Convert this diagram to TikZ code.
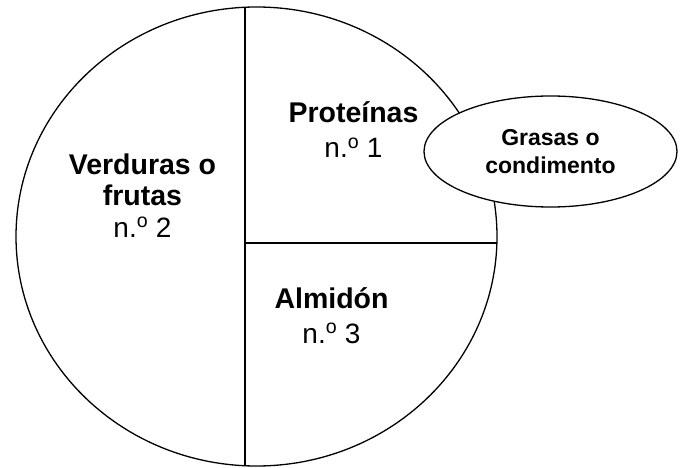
\documentclass[tikz,border=0pt]{standalone}
\usepackage{fontspec}
\setmainfont{Liberation Sans}
\usetikzlibrary{shapes.geometric}
\tikzset{
  plateline/.style={line width=1.3pt, black},
  head/.style={font=\fontsize{28.5}{34}\selectfont\bfseries, anchor=base, inner sep=0pt},
  num/.style={font=\fontsize{28}{34}\selectfont, anchor=base, inner sep=0pt},
  fat/.style={draw, ellipse, line width=1.3pt, fill=white, minimum width=253pt, minimum height=111pt, inner sep=0pt, align=center, font=\fontsize{23}{28}\selectfont\bfseries}
}
\newcommand{\ordo}{n.\textsuperscript{o}}
\begin{document}
\begin{tikzpicture}[x=1pt,y=-1pt]
\useasboundingbox (0,0) rectangle (683,468);
\node[draw, ellipse, line width=1.3pt, minimum width=481pt, minimum height=459pt, inner sep=0pt] (plate) at (256.5,236.5) {};
\coordinate (vtop) at (245,7.3);
\coordinate (vbot) at (245,465.7);
\coordinate (hmid) at (245,243);
\coordinate (hend) at (496.9,243);
\draw[plateline] (vtop) -- (vbot);
\draw[plateline] (hmid) -- (hend);
\node[fat] (grasas) at (550.5,151.5) {Grasas o\\condimento};
\node[head] (verd1) at (142.5,175) {Verduras o};
\node[head] (verd2) at (142.5,205) {frutas};
\node[num] (verd3) at (142.5,237) {\ordo\ 2};
\node[head] (prot1) at (353.5,123) {Proteínas};
\node[num] (prot2) at (353.5,158) {\ordo\ 1};
\node[head] (alm1) at (331.5,308) {Almidón};
\node[num] (alm2) at (331.5,343) {\ordo\ 3};
\end{tikzpicture}
\end{document}
